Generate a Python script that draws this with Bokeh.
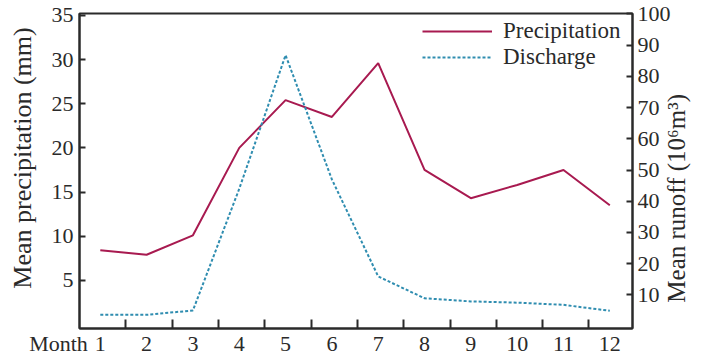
import math
from bokeh.plotting import figure
from bokeh.models import (Range1d, LinearAxis, FixedTicker, Legend, LegendItem, AllLabels)
from bokeh.embed import file_html
from bokeh.resources import INLINE

months = [1, 2, 3, 4, 5, 6, 7, 8, 9, 10, 11, 12]
precipitation = [8.4, 7.9, 10.1, 20.0, 25.4, 23.5, 29.6, 17.5, 14.3, 15.8, 17.5, 13.5]
discharge = [3.6, 3.6, 5.0, 44.0, 86.8, 47.0, 15.9, 8.9, 7.9, 7.5, 6.8, 4.9]
precip_ticks = [5, 10, 15, 20, 25, 30, 35]
runoff_ticks = [10, 20, 30, 40, 50, 60, 70, 80, 90, 100]
month_word = "Month"
left_title = "Mean precipitation (mm)"
right_title = "Mean runoff (10\u2076m\u00b3)"

FONT = "Liberation Serif"
DARK = "#2a2a2a"
RED = "#a81a50"
BLUE = "#2f8db0"
NB = "\u00a0"

p = figure(width=706, height=358, output_backend="svg", toolbar_location=None,
           x_range=Range1d(0.551, 12.49), y_range=Range1d(-0.45, 35.21),
           min_border_left=79, min_border_right=69, min_border_top=13, min_border_bottom=29)
p.extra_y_ranges = {"runoff": Range1d(-0.78, 100.15), "lab": Range1d(0, 1)}
p.background_fill_color = "white"
p.border_fill_color = "white"
p.outline_line_color = DARK
p.outline_line_width = 2
p.grid.visible = False

# bottom axis
month_pos = 0.572
xa = p.xaxis[0]
xa.ticker = FixedTicker(ticks=[month_pos] + months,
                        minor_ticks=[m + 0.55 for m in months[:-1]])
xa.major_label_overrides = {month_pos: month_word + NB * 8}
xa.major_label_policy = AllLabels()
xa.major_tick_in = 0
xa.major_tick_out = 0
xa.minor_tick_in = 9
xa.minor_tick_out = 0
xa.minor_tick_line_color = DARK
xa.minor_tick_line_width = 2
xa.axis_line_color = DARK
xa.axis_line_width = 2
xa.major_label_text_font = FONT
xa.major_label_text_font_size = "22px"
xa.major_label_text_color = DARK
xa.major_label_standoff = 2

# left axis
ya = p.yaxis[0]
ya.ticker = FixedTicker(ticks=precip_ticks)
ya.major_tick_in = 6
ya.major_tick_out = 0
ya.minor_tick_in = 0
ya.minor_tick_out = 0
ya.major_tick_line_color = DARK
ya.major_tick_line_width = 2
ya.axis_line_color = DARK
ya.axis_line_width = 2
ya.major_label_text_font = FONT
ya.major_label_text_font_size = "22px"
ya.major_label_text_color = DARK
ya.major_label_standoff = 6
ya.axis_label = NB * 4 + left_title
ya.axis_label_text_font = FONT
ya.axis_label_text_font_size = "26px"
ya.axis_label_text_font_style = "normal"
ya.axis_label_text_color = DARK
ya.axis_label_standoff = 12

# right axis
ra = LinearAxis(y_range_name="runoff", ticker=FixedTicker(ticks=runoff_ticks))
ra.major_tick_in = 6
ra.major_tick_out = 0
ra.minor_tick_in = 0
ra.minor_tick_out = 0
ra.major_tick_line_color = DARK
ra.major_tick_line_width = 2
ra.axis_line_color = DARK
ra.axis_line_width = 2
ra.major_label_text_font = FONT
ra.major_label_text_font_size = "22px"
ra.major_label_text_color = DARK
ra.major_label_standoff = 5
p.add_layout(ra, "right")

# right-hand title, drawn as the single label of a bare axis
lab_pos = 0.082
la = LinearAxis(y_range_name="lab", ticker=FixedTicker(ticks=[lab_pos]))
la.major_label_overrides = {lab_pos: right_title}
la.major_label_orientation = math.pi / 2
la.axis_line_color = None
la.major_tick_line_color = None
la.minor_tick_line_color = None
la.major_tick_in = 0
la.major_tick_out = 0
la.minor_tick_in = 0
la.minor_tick_out = 0
la.major_label_standoff = 3
la.major_label_text_font = FONT
la.major_label_text_font_size = "25px"
la.major_label_text_color = DARK
p.add_layout(la, "right")

r1 = p.line(months, precipitation, line_color=RED, line_width=2)
r2 = p.line(months, discharge, y_range_name="runoff", line_color=BLUE,
            line_width=2, line_dash="3 2")

legend = Legend(items=[LegendItem(label="Precipitation", renderers=[r1]),
                       LegendItem(label="Discharge", renderers=[r2])],
                location=(343, 258), orientation="vertical")
legend.border_line_color = None
legend.background_fill_alpha = 0
legend.padding = 0
legend.margin = 0
legend.spacing = 0
legend.glyph_width = 70
legend.glyph_height = 26
legend.label_height = 26
legend.label_standoff = 11
legend.label_text_font = FONT
legend.label_text_font_size = "23px"
legend.label_text_color = DARK
p.add_layout(legend, "center")

open("out.html", "w").write(file_html(p, INLINE))
